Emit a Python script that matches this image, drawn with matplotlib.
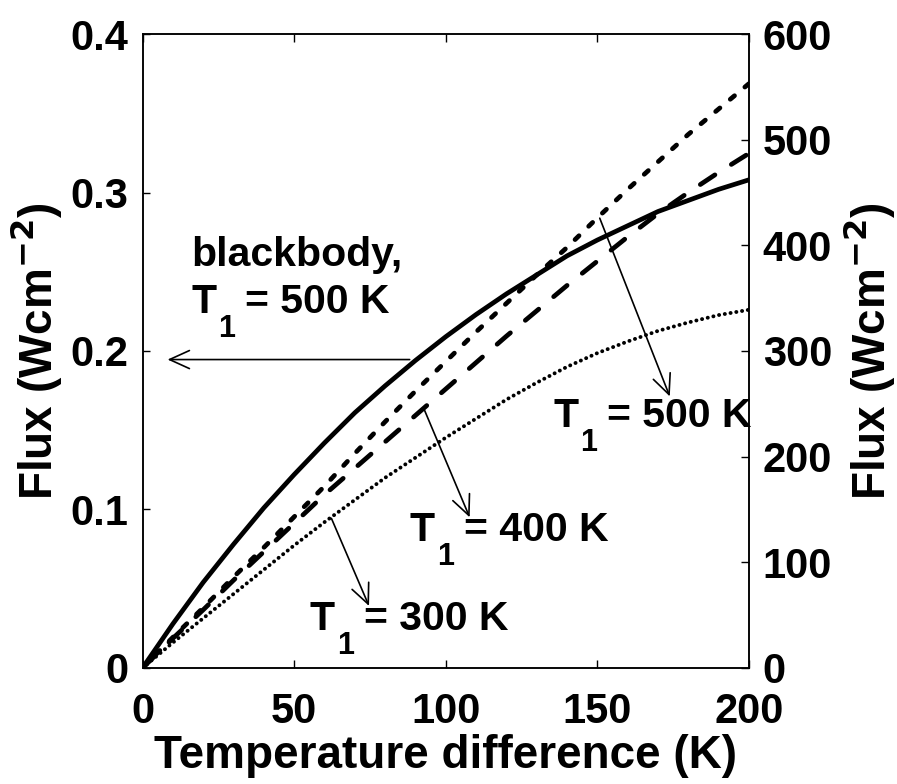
import matplotlib
matplotlib.use("Agg")
import matplotlib.pyplot as plt
from matplotlib.transforms import offset_copy

plt.rcParams['font.family'] = ['Liberation Sans', 'DejaVu Sans']
plt.rcParams['font.weight'] = 'bold'
plt.rcParams['axes.labelweight'] = 'bold'
plt.rcParams['mathtext.default'] = 'bf'
plt.rcParams['lines.scale_dashes'] = False

# Temperature difference (K)
dT = [0, 10, 20, 30, 40, 50, 60, 70, 80, 90, 100,
      110, 120, 130, 140, 150, 160, 170, 180, 190, 200]

# Blackbody net flux, T1 = 500 K (left axis, W/cm^2)
flux_blackbody = [0, 0.0278, 0.054, 0.078, 0.101, 0.122, 0.142, 0.161, 0.178, 0.194, 0.209,
                  0.223, 0.236, 0.248, 0.260, 0.270, 0.279, 0.288, 0.295, 0.302, 0.308]

# Device flux for three hot-side temperatures (right axis)
flux_500 = [0, 29, 57, 86, 114, 143, 172, 203, 233, 262, 290,
            318, 345, 372, 398, 426, 453, 479, 505, 529, 553]
flux_400 = [0, 28, 55, 83, 110, 137, 164, 189, 214, 239, 264,
            289, 314, 338, 362, 385, 408, 430, 450, 469, 487]
flux_300 = [0, 24, 47, 70, 93, 116, 138, 159, 180, 199, 218,
            236, 254, 270, 285, 298, 309, 319, 327, 334, 339]

x_ticks = [0, 50, 100, 150, 200]
left_ticks = [0, 0.1, 0.2, 0.3, 0.4]
left_tick_labels = ['0', '0.1', '0.2', '0.3', '0.4']
right_ticks = [0, 100, 200, 300, 400, 500, 600]

TICK_FS = 30
LABEL_FS = 33
NOTE_FS = 29.5

fig = plt.figure(figsize=(8.97, 7.84), dpi=100)
ax = fig.add_axes([0.1589, 0.148, 0.676, 0.8086])
ax2 = ax.twinx()

ax.plot(dT, flux_blackbody, color='black', lw=3.4, solid_capstyle='round')
ax2.plot(dT, flux_500, color='black', lw=3.4, dashes=(4, 9.7), dash_capstyle='round')
ax2.plot(dT, flux_400, color='black', lw=3.4, dashes=(12.6, 14), dash_capstyle='round')
ax2.plot(dT, flux_300, color='black', lw=2.8, dashes=(0.1, 4.1), dash_capstyle='round')

ax.set_xlim(0, 200)
ax.set_ylim(0, 0.4)
ax2.set_ylim(0, 600)

ax.set_xticks(x_ticks)
ax.set_xticklabels([str(v) for v in x_ticks])
ax.set_yticks(left_ticks)
ax.set_yticklabels(left_tick_labels)
ax2.set_yticks(right_ticks)
ax2.set_yticklabels([str(v) for v in right_ticks])

ax.tick_params(axis='x', which='both', direction='in', top=True, length=6, width=1,
               labelsize=TICK_FS, pad=17)
ax.tick_params(axis='y', direction='in', right=False, length=5, width=1,
               labelsize=TICK_FS, pad=10)
ax2.tick_params(axis='y', direction='in', length=6, width=1, labelsize=TICK_FS, pad=10)

for a in (ax, ax2):
    for s in a.spines.values():
        s.set_linewidth(1.1)

ax.set_xlabel('Temperature difference (K)', fontsize=LABEL_FS, labelpad=2)
ax.set_ylabel('Flux (Wcm$^{-2}$)', fontsize=LABEL_FS, labelpad=5)
ax2.set_ylabel('Flux (Wcm$^{-2}$)', fontsize=LABEL_FS, rotation=90, labelpad=6)


def t1_label(a, x, y, value):
    """Write 'T1 = <value> K' with a dropped subscript, baseline-left at (x, y)."""
    a.text(x, y, 'T', fontsize=NOTE_FS, ha='left', va='baseline', transform=a.transData)
    sub = offset_copy(a.transData, fig=fig, x=27, y=-24, units='dots')
    a.text(x, y, '1', fontsize=NOTE_FS * 0.75, ha='left', va='baseline', transform=sub)
    rest = offset_copy(a.transData, fig=fig, x=54, y=0, units='dots')
    a.text(x, y, '= %d K' % value, fontsize=NOTE_FS, ha='left', va='baseline',
           transform=rest)


arrow = dict(arrowstyle='->, head_length=0.55, head_width=0.25', color='black',
             lw=1.2, mutation_scale=26, shrinkA=0, shrinkB=0)

# blackbody curve belongs to the left axis
ax.text(16.0, 0.2536, 'blackbody,', fontsize=NOTE_FS, ha='left', va='baseline')
t1_label(ax, 16.0, 0.224, 500)
ax.annotate('', xy=(8.25, 0.1946), xytext=(88.1, 0.1946), arrowprops=arrow)

# the three device curves belong to the right axis
t1_label(ax, 135.4, 0.152, 500)
t1_label(ax, 88.2, 0.0801, 400)
t1_label(ax, 55.2, 0.024, 300)
ax2.annotate('', xy=(173.9, 257), xytext=(150.8, 425.7), arrowprops=arrow)
ax2.annotate('', xy=(107.9, 142.6), xytext=(93, 244), arrowprops=arrow)
ax2.annotate('', xy=(74.7, 58.7), xytext=(62.3, 141.6), arrowprops=arrow)

fig.savefig('out.png', dpi=100)
